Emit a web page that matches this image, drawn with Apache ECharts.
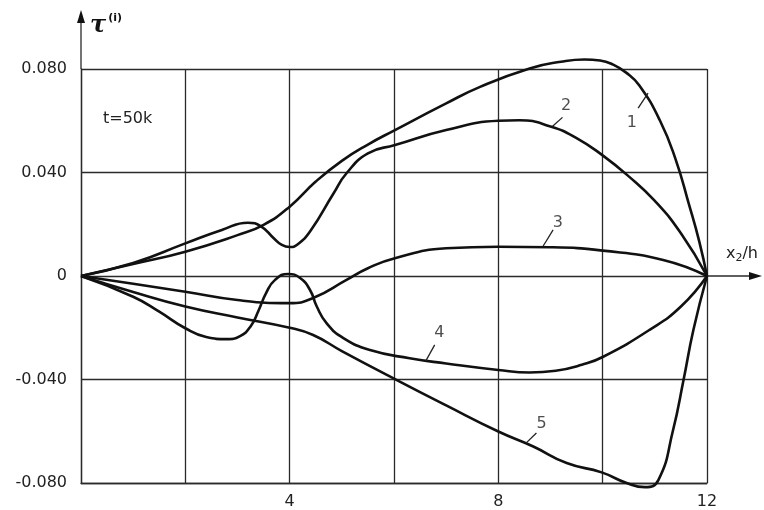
<!DOCTYPE html>
<html>
<head>
<meta charset="utf-8">
<script src="https://cdn.jsdelivr.net/npm/echarts@6/dist/echarts.min.js"></script>
<style>
html,body{margin:0;padding:0;background:#fff}
#main{width:764px;height:510px}
</style>
</head>
<body>
<div id="main"></div>
<script>
// кривые tau(i) по x2/h, t=50k
var curve1 = [[0,0],[1,0.0046],[2,0.0094],[3,0.0158],[3.5,0.0198],[4,0.0268],[4.5,0.0365],[5,0.0445],[5.5,0.0508],[6,0.0562],[7,0.0667],[7.65,0.0731],[8.6,0.0802],[9.2,0.0828],[9.65,0.0837],[9.95,0.0833],[10.2,0.0817],[10.45,0.0786],[10.7,0.0737],[11.1,0.060],[11.4,0.045],[11.65,0.028],[11.85,0.0135],[12,0]];
var curve2 = [[0,0],[1,0.005],[2,0.0126],[2.7,0.0178],[3.2,0.0206],[3.45,0.0192],[3.7,0.0145],[3.85,0.012],[4,0.0112],[4.15,0.0122],[4.4,0.0175],[4.84,0.0319],[5.09,0.0397],[5.5,0.0474],[6.02,0.0506],[7,0.0564],[8,0.060],[8.4,0.0602],[9,0.0578],[9.5,0.0533],[10,0.0466],[10.5,0.0385],[11,0.029],[11.5,0.0165],[12,0]];
var curve3 = [[0,0],[1,-0.003],[2,-0.0061],[3,-0.0093],[4,-0.0105],[4.45,-0.0085],[5.09,-0.0015],[5.5,0.003],[6,0.0068],[7,0.0107],[8,0.0113],[9,0.0111],[10,0.0098],[11.16,0.0062],[12,0]];
var curve4 = [[0,0],[1,-0.008],[1.5,-0.0138],[2,-0.0202],[2.4,-0.0236],[2.79,-0.0244],[3.05,-0.0232],[3.25,-0.0195],[3.4,-0.0135],[3.55,-0.0065],[3.72,-0.0015],[3.97,0.0008],[4.2,-0.0008],[4.39,-0.0054],[4.52,-0.0118],[4.71,-0.0183],[5.03,-0.024],[5.54,-0.0286],[6.3,-0.0318],[7,-0.0338],[8,-0.0363],[8.6,-0.0373],[9.1,-0.0366],[9.6,-0.0343],[10,-0.0313],[10.9,-0.0208],[11.5,-0.0118],[12,0]];
var curve5 = [[0,0],[1,-0.0062],[2,-0.0118],[3,-0.016],[4,-0.020],[4.45,-0.0228],[5,-0.029],[6.11,-0.0408],[7,-0.050],[8,-0.0601],[8.67,-0.0659],[9.31,-0.0723],[9.98,-0.0759],[10.46,-0.080],[10.81,-0.0816],[11.07,-0.0788],[11.35,-0.0595],[11.55,-0.0402],[11.74,-0.0208],[12,0]];

// подписи кривых и выноски (в координатах данных)
var tagText = ['1','2','3','4','5'];
var tagAt = [[10.56,0.0591],[9.30,0.0656],[9.14,0.0205],[6.87,-0.0221],[8.83,-0.0571]];
var tagLeader = [
    [[10.68,0.0649],[10.87,0.0707]],
    [[9.04,0.0579],[9.23,0.0613]],
    [[8.86,0.0116],[9.05,0.0178]],
    [[6.61,-0.0328],[6.78,-0.0266]],
    [[8.53,-0.0646],[8.73,-0.0607]]
];

var xTickLabels = [4, 8, 12];
var yTickLabels = {'0.08':'0.080','0.04':'0.040','0':'0','-0.04':'-0.040','-0.08':'-0.080'};

var curves = [curve1, curve2, curve3, curve4, curve5];
var gridColor = '#2a2a2a';
var font = 'DejaVu Sans';

var chart = echarts.init(document.getElementById('main'));

var series = [];
for (var i = 0; i < curves.length; i++) {
    series.push({
        type: 'line',
        data: curves[i],
        smooth: 0.5,
        symbol: 'none',
        clip: false,
        silent: true,
        lineStyle: {color: '#111', width: 2.6}
    });
}
for (var j = 0; j < tagLeader.length; j++) {
    series.push({
        type: 'line',
        data: tagLeader[j],
        symbol: 'none',
        silent: true,
        lineStyle: {color: '#222', width: 1.3}
    });
}
series.push({
    type: 'scatter',
    symbolSize: 1,
    itemStyle: {color: 'rgba(0,0,0,0)'},
    silent: true,
    data: tagAt.map(function (p, k) { return {value: p, name: tagText[k]}; }),
    label: {
        show: true,
        position: 'inside',
        formatter: '{b}',
        fontFamily: font,
        fontSize: 16,
        color: '#222'
    }
});

var option = {
    animation: false,
    backgroundColor: '#fff',
    grid: {left: 81, right: 57, top: 69, bottom: 27},
    xAxis: {
        type: 'value',
        min: 0,
        max: 12,
        interval: 2,
        axisLine: {show: true, onZero: false, lineStyle: {color: gridColor, width: 1.3}},
        axisTick: {show: false},
        splitLine: {show: true, lineStyle: {color: gridColor, width: 1.3}},
        axisLabel: {
            margin: 11,
            fontFamily: font,
            fontSize: 16,
            color: '#222',
            formatter: function (v) { return xTickLabels.indexOf(v) >= 0 ? String(v) : ''; }
        }
    },
    yAxis: {
        type: 'value',
        min: -0.08,
        max: 0.08,
        interval: 0.04,
        axisLine: {show: true, lineStyle: {color: gridColor, width: 1.3}},
        axisTick: {show: false},
        splitLine: {show: true, lineStyle: {color: gridColor, width: 1.3}},
        axisLabel: {
            margin: 14,
            fontFamily: font,
            fontSize: 16,
            color: '#222',
            formatter: function (v) {
                var k = String(Math.round(v * 100) / 100);
                return yTickLabels[k] !== undefined ? yTickLabels[k] : '';
            }
        }
    },
    series: series
};
chart.setOption(option);

// стрелки осей и подписи
var pTop = chart.convertToPixel({gridIndex: 0}, [0, 0.08]);
var pEnd = chart.convertToPixel({gridIndex: 0}, [12, 0]);
chart.setOption({
    graphic: [
        {type: 'line', shape: {x1: pTop[0], y1: pTop[1], x2: pTop[0], y2: 18}, style: {stroke: gridColor, lineWidth: 1.3}},
        {type: 'polygon', shape: {points: [[pTop[0] - 4, 23], [pTop[0], 10], [pTop[0] + 4, 23]]}, style: {fill: '#111'}},
        {type: 'line', shape: {x1: pEnd[0], y1: pEnd[1], x2: 752, y2: pEnd[1]}, style: {stroke: gridColor, lineWidth: 1.3}},
        {type: 'polygon', shape: {points: [[749, pEnd[1] - 4], [762, pEnd[1]], [749, pEnd[1] + 4]]}, style: {fill: '#111'}},
        {
            type: 'text', left: 90, top: 13,
            style: {
                text: '{a|τ}{b|(i)}',
                rich: {
                    a: {fontFamily: 'DejaVu Serif', fontSize: 24, fontWeight: 'bold', fontStyle: 'italic', fill: '#111', verticalAlign: 'bottom'},
                    b: {fontFamily: font, fontSize: 11, fontWeight: 'bold', fill: '#111', verticalAlign: 'top', padding: [0, 0, 14, 2]}
                }
            }
        },
        {
            type: 'text', left: 103, top: 111,
            style: {text: 't=50k', fontFamily: font, fontSize: 16, fill: '#222'}
        },
        {
            type: 'text', left: 726, top: 246,
            style: {
                text: '{a|x}{s|2}{a|/h}',
                rich: {
                    a: {fontFamily: font, fontSize: 16, fill: '#222'},
                    s: {fontFamily: font, fontSize: 11, fill: '#222', padding: [8, 0, 0, 0]}
                }
            }
        }
    ]
});
</script>
</body>
</html>
